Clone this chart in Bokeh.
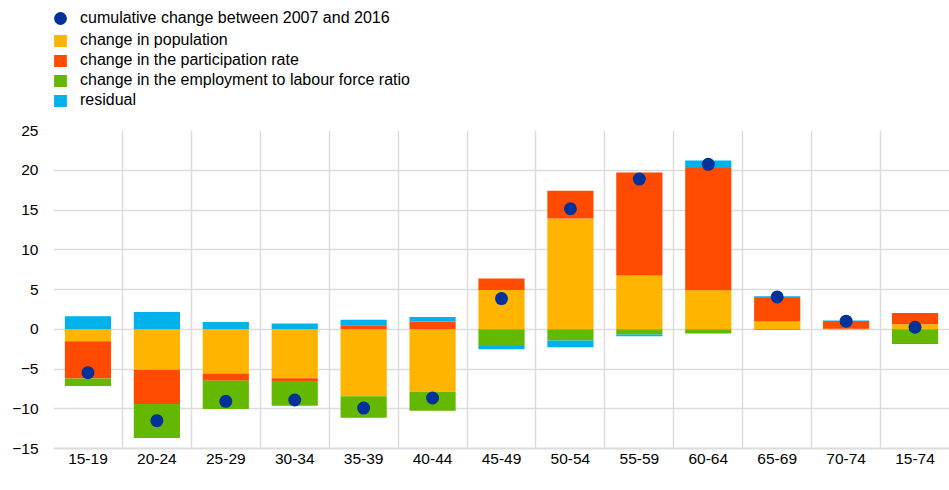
import numpy as np
from bokeh.plotting import figure
from bokeh.layouts import column
from bokeh.models import Range1d, FixedTicker, Legend, LegendItem
from bokeh.embed import file_html
from bokeh.resources import INLINE

# ---- data ----
categories = ["15-19", "20-24", "25-29", "30-34", "35-39", "40-44", "45-49",
              "50-54", "55-59", "60-64", "65-69", "70-74", "15-74"]
population = [-1.51, -5.08, -5.58, -6.17, -8.44, -7.85, 4.95, 13.94, 6.76, 4.91, 0.96, 0.05, 0.62]
participation = [-4.70, -4.32, -0.89, -0.34, 0.50, 0.97, 1.43, 3.48, 12.97, 15.37, 2.98, 1.00, 1.43]
employment = [-0.93, -4.29, -3.56, -3.10, -2.68, -2.39, -2.10, -1.43, -0.67, -0.55, -0.10, -0.02, -1.73]
residual = [1.64, 2.18, 0.92, 0.71, 0.68, 0.58, -0.42, -0.84, -0.21, 0.96, 0.20, 0.05, -0.12]
cumulative = [-5.46, -11.50, -9.07, -8.90, -9.91, -8.65, 3.86, 15.16, 18.89, 20.74, 4.07, 1.01, 0.25]
y_ticks = [-15, -10, -5, 0, 5, 10, 15, 20, 25]

series_labels = ["change in population", "change in the participation rate",
                 "change in the employment to labour force ratio", "residual"]
series_values = [population, participation, employment, residual]
series_colors = ["#FFB400", "#FF4B00", "#65B800", "#00B1EA"]
dot_label = "cumulative change between 2007 and 2016"
DOT_COLOR = "#003299"

FONT = "Liberation Sans"
FSIZE = "15.5px"
LSIZE = "16px"
GRID = "#dcdcdc"
W = 949
LEG_H = 118
MAIN_H = 372

n = len(categories)
xs = np.arange(n) + 0.5

# ---------------- main chart ----------------
p = figure(width=W, height=MAIN_H, output_backend="svg", toolbar_location=None,
           x_range=Range1d(0, n), y_range=Range1d(y_ticks[0], y_ticks[-1]),
           min_border_left=53, min_border_right=0, min_border_top=12,
           min_border_bottom=42)
p.outline_line_color = None

p.xgrid.ticker = FixedTicker(ticks=list(range(0, n + 1)))
p.ygrid.ticker = FixedTicker(ticks=y_ticks)
for g in (p.xgrid, p.ygrid):
    g.grid_line_color = GRID
    g.grid_line_width = 1.5

p.yaxis.ticker = FixedTicker(ticks=y_ticks)
p.yaxis.axis_line_color = None
p.yaxis.major_label_standoff = 15
p.xaxis.ticker = FixedTicker(ticks=list(xs))
p.xaxis.major_label_overrides = {float(x): c for x, c in zip(xs, categories)}
p.xaxis.axis_line_color = GRID
p.xaxis.axis_line_width = 2
p.xaxis.major_label_standoff = 5
for ax in (p.xaxis, p.yaxis):
    ax.major_tick_line_color = None
    ax.minor_tick_line_color = None
    ax.major_tick_out = 0
    ax.minor_tick_out = 0
    ax.major_label_text_font = FONT
    ax.major_label_text_font_size = FSIZE
    ax.major_label_text_color = "#000000"

pos_base = np.zeros(n)
neg_base = np.zeros(n)
for vals, col in zip(series_values, series_colors):
    arr = np.array(vals, dtype=float)
    bottom = np.where(arr >= 0, pos_base, neg_base)
    top = bottom + arr
    pos_base = np.where(arr >= 0, top, pos_base)
    neg_base = np.where(arr < 0, top, neg_base)
    p.vbar(x=xs, width=0.67, bottom=bottom, top=top, fill_color=col, line_color=None)

p.scatter(x=xs, y=cumulative, size=13, fill_color=DOT_COLOR, line_color=None)

# ---------------- legend strip above ----------------
lf = figure(width=W, height=LEG_H, output_backend="svg", toolbar_location=None,
            x_range=Range1d(0, 1), y_range=Range1d(0, 1),
            x_axis_location=None, y_axis_location=None,
            min_border_left=53, min_border_right=0, min_border_top=0,
            min_border_bottom=0)
lf.outline_line_color = None
lf.xgrid.visible = False
lf.ygrid.visible = False

# key-only renderers (one undefined point each, so nothing is drawn in the strip)
nan1 = np.array([np.nan])
dot_key = lf.scatter(x=nan1, y=nan1, size=13, fill_color=DOT_COLOR, line_color=None)
bar_keys = [lf.vbar(x=nan1, top=nan1, width=0.5, fill_color=c, line_color=None)
            for c in series_colors]

common = dict(padding=0, spacing=0, margin=0, border_line_color=None,
              background_fill_alpha=0, label_text_font=FONT,
              label_text_font_size=LSIZE, label_text_color="#000000")
leg1 = Legend(items=[LegendItem(label=dot_label, renderers=[dot_key])],
              location=(-9, LEG_H - 34), glyph_width=32, glyph_height=32,
              label_standoff=4, label_height=20, **common)
leg2 = Legend(items=[LegendItem(label=l, renderers=[r])
                     for l, r in zip(series_labels, bar_keys)],
              location=(-1, LEG_H - 110), glyph_width=16, glyph_height=15,
              label_standoff=12, label_height=20, **common)
lf.add_layout(leg1)
lf.add_layout(leg2)

layout = column(lf, p, spacing=0)
open("out.html", "w").write(file_html(layout, INLINE))
